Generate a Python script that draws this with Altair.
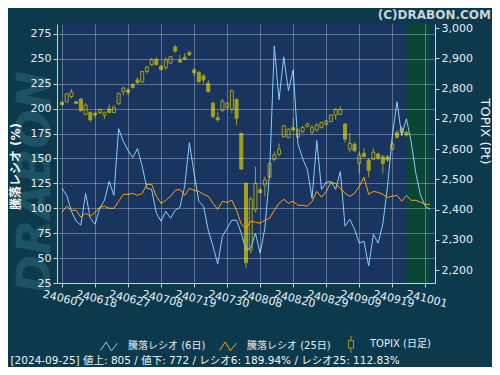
import altair as alt
import pandas as pd

# ---------------- data ----------------
tick_labels = ["240607", "240618", "240627", "240708", "240719", "240730",
               "240808", "240820", "240829", "240909", "240919", "241001"]
tick_step = 7
x_domain = [0, 78]

# 騰落レシオ (6日) per trading-day index 0..78
ratio6 = [120, 113, 97, 87, 83, 115, 90, 84, 100, 108,
          127, 113, 180, 167, 158, 151, 160, 142, 120, 119,
          95, 87, 97, 90, 98, 101, 122, 166, 135, 107,
          102, 78, 62, 44, 72, 80, 88, 88, 75, 58,
          60, 75, 55, 80, 135, 263, 209, 252, 218, 239,
          165, 150, 139, 110, 168, 119, 126, 127, 119, 137,
          82, 89, 79, 65, 67, 42, 74, 65, 84, 122,
          172, 207, 173, 189.94, 167, 135, 113, 102, 99]

# 騰落レシオ (25日)
ratio25 = [96, 102, 98, 98, 91, 95, 92, 96, 101, 102,
           100, 100, 107, 114, 114, 115, 113, 115, 124, 124,
           112, 105, 108, 112, 118, 119, 113, 120, 118, 117,
           114, 112, 105, 99, 107, 106, 108, 98, 84, 80,
           87, 86, 85, 88, 90, 98, 105, 109, 105, 107,
           103, 103, 102, 107, 117, 111, 117, 126, 125, 120,
           115, 112, 115, 122, 131, 114, 117, 116, 114, 111,
           112, 113, 107, 112.83, 108, 108, 106, 104, 104]

# TOPIX daily candles, index 0..73
topix_open = [2755, 2756, 2774, 2757, 2766, 2714, 2722, 2719, 2721, 2713,
              2733, 2721, 2750, 2790, 2796, 2813, 2829, 2822, 2857, 2879,
              2897, 2874, 2870, 2884, 2938, 2895, 2904, 2919, 2862, 2854,
              2842, 2818, 2752, 2704, 2727, 2738, 2732, 2765, 2652, 2487,
              2266, 2399, 2465, 2481, 2507, 2566, 2583, 2641, 2638, 2671,
              2639, 2658, 2675, 2656, 2663, 2671, 2682, 2691, 2713, 2715,
              2683, 2600, 2616, 2553, 2586, 2564, 2567, 2584, 2575, 2575,
              2600, 2655, 2669, 2655]
topix_close = [2747, 2783, 2789, 2751, 2727, 2746, 2697, 2713, 2731, 2722,
               2721, 2738, 2785, 2802, 2787, 2804, 2820, 2857, 2871, 2896,
               2880, 2863, 2895, 2906, 2925, 2888, 2897, 2912, 2853, 2823,
               2829, 2790, 2708, 2697, 2759, 2752, 2793, 2702, 2534, 2224,
               2435, 2487, 2456, 2498, 2553, 2581, 2600, 2677, 2666, 2663,
               2663, 2672, 2683, 2671, 2680, 2688, 2693, 2713, 2732, 2732,
               2633, 2619, 2595, 2581, 2575, 2529, 2590, 2570, 2553, 2564,
               2617, 2639, 2655, 2647]
topix_high = [2759, 2785, 2799, 2759, 2769, 2752, 2724, 2719, 2734, 2724,
              2748, 2746, 2787, 2807, 2801, 2820, 2837, 2859, 2875, 2901,
              2904, 2879, 2904, 2908, 2945, 2912, 2917, 2925, 2868, 2859,
              2848, 2829, 2757, 2724, 2766, 2754, 2798, 2767, 2655, 2489,
              2443, 2542, 2470, 2509, 2555, 2592, 2619, 2680, 2669, 2702,
              2669, 2677, 2688, 2680, 2686, 2691, 2697, 2715, 2735, 2741,
              2686, 2653, 2623, 2592, 2603, 2570, 2603, 2588, 2581, 2581,
              2625, 2663, 2675, 2661]
topix_low = [2745, 2754, 2768, 2749, 2725, 2713, 2691, 2704, 2716, 2699,
             2719, 2719, 2747, 2777, 2779, 2800, 2816, 2820, 2849, 2875,
             2877, 2862, 2862, 2884, 2919, 2886, 2895, 2908, 2842, 2820,
             2818, 2787, 2702, 2691, 2724, 2733, 2719, 2680, 2532, 2206,
             2255, 2390, 2454, 2443, 2505, 2559, 2575, 2639, 2636, 2661,
             2636, 2652, 2672, 2647, 2658, 2669, 2680, 2689, 2697, 2713,
             2622, 2589, 2590, 2520, 2573, 2507, 2564, 2564, 2520, 2559,
             2597, 2636, 2644, 2641]

highlight_start = [73]
highlight_end = [78]

series_names = ["騰落レシオ (6日)", "騰落レシオ (25日)", "TOPIX (日足)"]
footer_text = "[2024-09-25]  値上: 805 / 値下: 772 / レシオ6: 189.94% / レシオ25: 112.83%"
copyright_text = "(C)DRABON.COM"
watermark_text = "DRABON"

# ---------------- styles ----------------
FONT = "DejaVu Sans, Noto Sans CJK JP, sans-serif"
BG = "#0c3a4c"
NAVY = "#1a3460"
HOLLOW = "#1f3558"
GREEN = "#0a4535"
BLUE = "#87cefa"
ORANGE = "#ffa500"
OLIVE = "#a3a019"
TXT = "#e8eef4"
ZIG = "M-1,0.5L-0.33,-0.5L0.27,0.55L1,-0.35"
CANDLE = "M0,-1L0,-0.45M-0.3,-0.45L0.3,-0.45L0.3,0.45L-0.3,0.45ZM0,0.45L0,1"

# ---------------- frames ----------------
n = len(ratio6)
line_df = pd.DataFrame({
    "i": list(range(n)) * 2,
    "series": [series_names[0]] * n + [series_names[1]] * n,
    "v": ratio6 + ratio25,
})
m = len(topix_open)
candle_df = pd.DataFrame({
    "i": list(range(m)), "o": topix_open, "c": topix_close,
    "h": topix_high, "l": topix_low,
})
candle_df["lo"] = candle_df[["o", "c"]].min(axis=1)
candle_df["hi"] = candle_df[["o", "c"]].max(axis=1)
hl_df = pd.DataFrame({"a": highlight_start, "b": highlight_end})
bg_df = pd.DataFrame({"a": [x_domain[0]], "b": [x_domain[1]]})
leg_df = pd.DataFrame({"series": series_names})

# ---------------- scales / axes ----------------
tick_values = [k * tick_step for k in range(len(tick_labels))]
label_expr = "[" + ",".join(f"'{t}'" for t in tick_labels) + f"][round(datum.value/{tick_step})]"

xscale = alt.Scale(domain=x_domain, nice=False, zero=False)
xaxis = alt.Axis(values=tick_values, labelExpr=label_expr, labelAngle=14,
                 labelAlign="left", labelBaseline="top", labelOffset=-18,
                 labelOverlap=False, labelFlush=False, grid=True, tickSize=4,
                 labelPadding=1,
                 title=footer_text, titleX=-47, titleY=77, titleAlign="left",
                 titleBaseline="middle", titleFontSize=10.5, titleFontWeight="normal",
                 titleAngle=0, zindex=1)


def X(field):
    return alt.X(f"{field}:Q", scale=xscale, axis=xaxis)


lscale = alt.Scale(domain=[25, 285], nice=False, zero=False)
laxis = alt.Axis(orient="left", values=list(range(25, 276, 25)), grid=True,
                 title="騰落レシオ (%)", titleX=-42, titleY=142, titleAngle=270,
                 titleAlign="center", titleBaseline="middle", titleFontSize=12,
                 titleFontWeight="bold", tickSize=4, labelPadding=2, zindex=1)

rscale = alt.Scale(domain=[2157, 3014], nice=False, zero=False)
raxis = alt.Axis(orient="right", values=list(range(2200, 3001, 100)), format=",d",
                 grid=False, title="TOPIX (Pt)", titleX=49, titleY=107, titleAngle=90,
                 titleAlign="center", titleBaseline="middle", titleFontSize=13,
                 titleFontWeight="normal", tickSize=4, labelPadding=2, zindex=1)

# ---------------- layers ----------------
watermark = alt.Chart(alt.Data(values=[{}])).mark_text(
    text=watermark_text, angle=270, fontSize=46, fontWeight="bold",
    fontStyle="italic", color="#1d5264", font="DejaVu Sans",
    align="center", baseline="middle"
).encode(x=alt.value(-21), y=alt.value(158))

plot_bg = alt.Chart(bg_df).mark_rect(color=NAVY).encode(x=X("a"), x2="b:Q")
green = alt.Chart(hl_df).mark_rect(color=GREEN).encode(x=X("a"), x2="b:Q")

wick = alt.Chart(candle_df).mark_rule(color=OLIVE, strokeWidth=1).encode(
    x=X("i"), y=alt.Y("l:Q", scale=rscale, axis=raxis), y2="h:Q")
body = alt.Chart(candle_df).mark_bar(size=3, stroke=OLIVE, strokeWidth=1).encode(
    x=X("i"), y=alt.Y("lo:Q", scale=rscale, axis=raxis), y2="hi:Q",
    fill=alt.condition("datum.c < datum.o", alt.value(OLIVE), alt.value(HOLLOW)))
candles = alt.layer(wick, body)

blue = alt.Chart(line_df).transform_filter(
    alt.datum.series == series_names[0]
).mark_line(color=BLUE, strokeWidth=1).encode(
    x=X("i"), y=alt.Y("v:Q", scale=lscale, axis=laxis))
orange = alt.Chart(line_df).transform_filter(
    alt.datum.series == series_names[1]
).mark_line(color=ORANGE, strokeWidth=1).encode(
    x=X("i"), y=alt.Y("v:Q", scale=lscale, axis=laxis))
lines = alt.layer(blue, orange)

leg_props = dict(orient="none", legendX=43, legendY=311, direction="horizontal",
                 title=None, symbolSize=289, symbolStrokeWidth=1, symbolOpacity=1,
                 symbolFillColor="transparent", labelFontSize=10, labelColor=TXT,
                 labelFont=FONT, labelOffset=10, columnPadding=11, padding=0)
legend_layer = alt.Chart(leg_df).mark_point(filled=False).encode(
    color=alt.Color("series:N", sort=series_names,
                    scale=alt.Scale(domain=series_names, range=[BLUE, ORANGE, OLIVE]),
                    legend=alt.Legend(**leg_props)),
    shape=alt.Shape("series:N", sort=series_names,
                    scale=alt.Scale(domain=series_names, range=[ZIG, ZIG, CANDLE]),
                    legend=alt.Legend(**leg_props)),
    opacity=alt.value(0),
)

chart = alt.layer(watermark, plot_bg, green, candles, lines, legend_layer).resolve_scale(
    y="independent"
).properties(
    width=378, height=259,
    autosize=alt.AutoSizeParams(type="none"),
    padding={"left": 49, "top": 16, "right": 57, "bottom": 84},
    background=BG,
    title=alt.TitleParams(copyright_text, anchor="end", fontSize=12,
                          fontWeight="bold", color="#c9d3d8", font=FONT,
                          offset=2, dx=1, dy=2),
).configure(font=FONT).configure_axis(
    labelFont=FONT, labelFontSize=11, labelColor=TXT,
    titleFont=FONT, titleColor="#f2f4f6",
    domainColor="#c8d2e2", tickColor="#c8d2e2",
    gridColor="#ffffff", gridOpacity=0.3,
).configure_view(fill=NAVY, stroke="transparent")

chart.save("out.html", embed_options={"renderer": "svg", "actions": False})
